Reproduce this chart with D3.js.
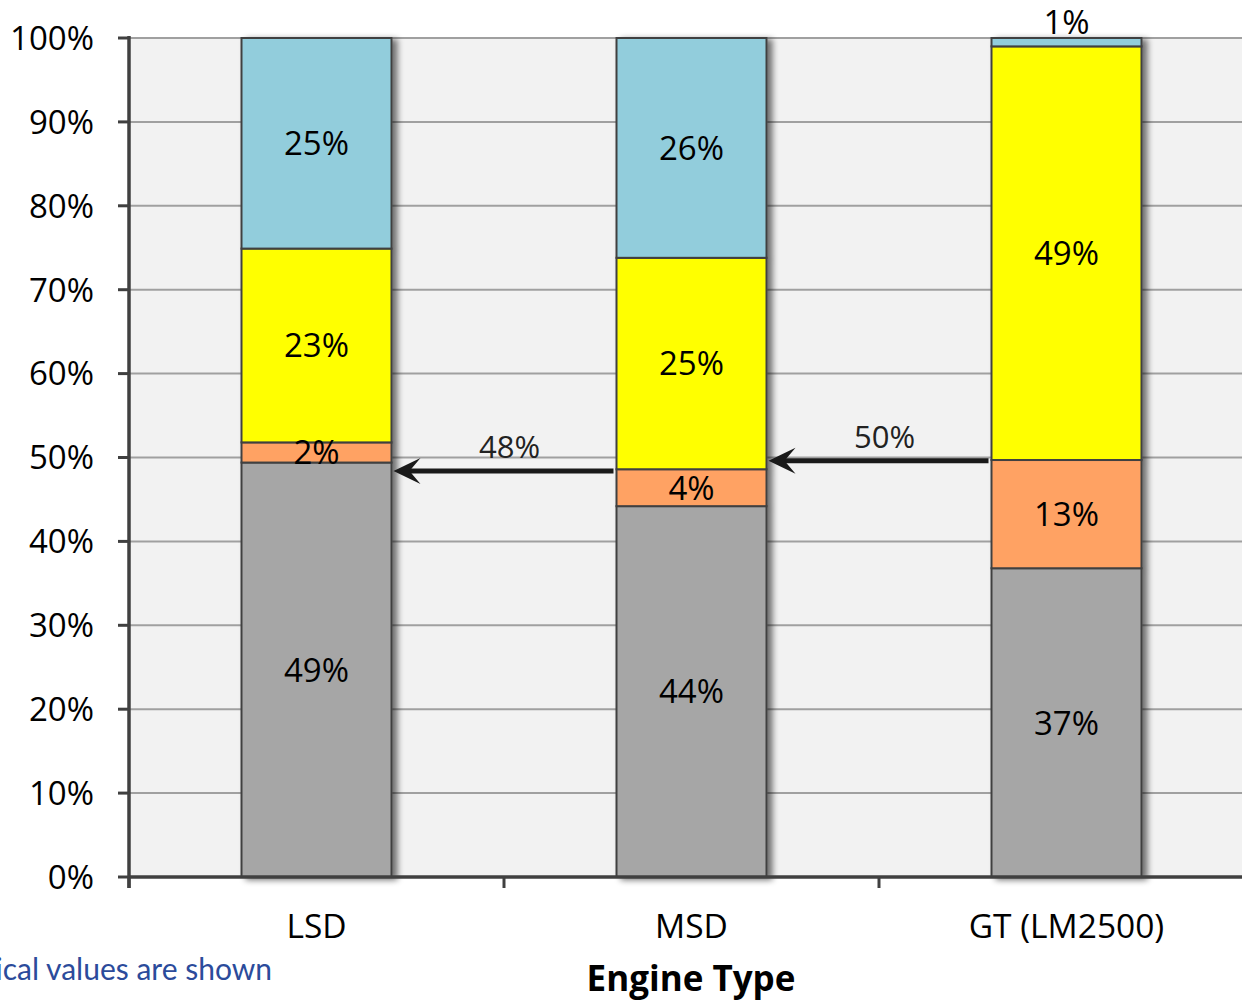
<!DOCTYPE html>
<html>
<head>
<meta charset="utf-8">
<script src="https://cdn.jsdelivr.net/npm/d3@7"></script>
<style>
  html, body { margin: 0; padding: 0; background: #ffffff; overflow: hidden; }
  svg { display: block; font-family: "Open Sans", "Noto Sans", sans-serif; }
</style>
</head>
<body>
<svg id="chart" width="1242" height="1003"></svg>
<script>
// Engine types along the x axis
const categories = ["LSD", "MSD", "GT (LM2500)"];
// Share of each component per engine (percent), stacked bottom to top
const seriesNames = ["Gray", "Orange", "Yellow", "Blue"];
const grayValues   = [49.4, 44.2, 36.8];
const orangeValues = [2.4, 4.4, 12.9];
const yellowValues = [23.1, 25.2, 49.3];
const blueValues   = [25.1, 26.2, 1.0];
const seriesColors = ["#a6a6a6", "#ffa264", "#ffff00", "#92cddc"];
// Comparison arrows: from one bar back to the previous one, at the stated level
const arrowFrom   = ["MSD", "GT (LM2500)"];
const arrowTo     = ["LSD", "MSD"];
const arrowValues = [48.4, 49.6];
// Axis tick values
const yTicks = [0, 10, 20, 30, 40, 50, 60, 70, 80, 90, 100];
const xTitle = "Engine Type";
const footnote = "Typical values are shown";

const svg = d3.select("#chart");
const plotLeft = 129, plotRight = 1254, plotTop = 38, plotBottom = 877;

const x = d3.scaleBand().domain(categories).range([plotLeft, plotRight])
  .paddingInner(0.6).paddingOuter(0.3);
const y = d3.scaleLinear().domain([0, 100]).range([plotBottom, plotTop]);

const rows = categories.map((c, i) => ({
  cat: c,
  Gray: grayValues[i], Orange: orangeValues[i], Yellow: yellowValues[i], Blue: blueValues[i]
}));
const stacked = d3.stack().keys(seriesNames)(rows);
const color = d3.scaleOrdinal().domain(seriesNames).range(seriesColors);

// Shadow for the bars
const defs = svg.append("defs");
const f = defs.append("filter").attr("id", "shadow")
  .attr("x", "-10%").attr("y", "-5%").attr("width", "130%").attr("height", "115%");
f.append("feGaussianBlur").attr("in", "SourceAlpha").attr("stdDeviation", 3).attr("result", "b");
f.append("feOffset").attr("in", "b").attr("dx", 5).attr("dy", 2).attr("result", "o");
f.append("feComponentTransfer").attr("in", "o").attr("result", "s")
  .append("feFuncA").attr("type", "linear").attr("slope", 0.55);
const m = f.append("feMerge");
m.append("feMergeNode").attr("in", "s");
m.append("feMergeNode").attr("in", "SourceGraphic");

// Plot background
svg.append("rect").attr("x", plotLeft).attr("y", plotTop)
  .attr("width", plotRight - plotLeft).attr("height", plotBottom - plotTop).attr("fill", "#f2f2f2");

// Horizontal gridlines
svg.append("g").selectAll("line").data(yTicks.filter(d => d > 0)).join("line")
  .attr("x1", plotLeft).attr("x2", plotRight)
  .attr("y1", d => y(d)).attr("y2", d => y(d))
  .attr("stroke", "#a0a0a0").attr("stroke-width", 2);

// Bars with shadow
const barGroup = svg.append("g").attr("filter", "url(#shadow)");
categories.forEach((c, i) => {
  const g = barGroup.append("g");
  stacked.forEach(s => {
    const d = s[i];
    g.append("rect")
      .attr("x", x(c)).attr("width", x.bandwidth())
      .attr("y", y(d[1])).attr("height", y(d[0]) - y(d[1]))
      .attr("fill", color(s.key))
      .attr("stroke", "#404040").attr("stroke-width", 2);
  });
});

// Segment value labels
const fmt = v => Math.round(v) + "%";
stacked.forEach(s => {
  s.forEach((d, i) => {
    const v = d[1] - d[0];
    const cx = x(categories[i]) + x.bandwidth() / 2;
    const cy = v < 1.5 ? y(d[1]) - 16 : (y(d[0]) + y(d[1])) / 2;
    svg.append("text")
      .attr("x", cx).attr("y", cy).attr("dy", "0.36em")
      .attr("text-anchor", "middle").attr("font-size", 33).attr("fill", "#000")
      .text(fmt(v));
  });
});

// Comparison arrows, head drawn as a barbed path at the left end
arrowValues.forEach((v, i) => {
  const x1 = x(arrowFrom[i]) - 3;
  const x2 = x(arrowTo[i]) + x.bandwidth() + 2;
  const yy = y(v);
  svg.append("line")
    .attr("x1", x1).attr("x2", x2 + 14).attr("y1", yy).attr("y2", yy)
    .attr("stroke", "#1a1a1a").attr("stroke-width", 5);
  svg.append("path")
    .attr("d", `M${x2},${yy} L${x2 + 27},${yy - 13} L${x2 + 16},${yy} L${x2 + 27},${yy + 13} Z`)
    .attr("fill", "#1a1a1a");
  svg.append("text")
    .attr("x", (x1 + x2) / 2 + 6).attr("y", yy - 24).attr("dy", "0.36em")
    .attr("text-anchor", "middle").attr("font-size", 31).attr("fill", "#222")
    .text(fmt(v));
});

// Y axis
const yAxis = svg.append("g");
yAxis.append("line").attr("x1", plotLeft).attr("x2", plotLeft).attr("y1", plotTop - 2).attr("y2", plotBottom + 11)
  .attr("stroke", "#404040").attr("stroke-width", 3.5);
yAxis.selectAll("line.tick").data(yTicks).join("line").attr("class", "tick")
  .attr("x1", plotLeft - 11).attr("x2", plotLeft).attr("y1", d => y(d)).attr("y2", d => y(d))
  .attr("stroke", "#404040").attr("stroke-width", 3);
yAxis.selectAll("text").data(yTicks).join("text")
  .attr("x", 94).attr("y", d => y(d)).attr("dy", "0.36em")
  .attr("text-anchor", "end").attr("font-size", 33).attr("fill", "#000")
  .text(d => d + "%");

// X axis
const step = x.step();
const xBounds = categories.map(c => x(c) - step * x.paddingInner() / 2);
const xAxis = svg.append("g");
xAxis.append("line").attr("x1", plotLeft).attr("x2", plotRight).attr("y1", plotBottom).attr("y2", plotBottom)
  .attr("stroke", "#404040").attr("stroke-width", 3.5);
xAxis.selectAll("line.tick").data(xBounds).join("line").attr("class", "tick")
  .attr("x1", d => d).attr("x2", d => d).attr("y1", plotBottom).attr("y2", plotBottom + 11)
  .attr("stroke", "#404040").attr("stroke-width", 3);
xAxis.selectAll("text").data(categories).join("text")
  .attr("x", d => x(d) + x.bandwidth() / 2).attr("y", 926).attr("dy", "0.36em")
  .attr("text-anchor", "middle").attr("font-size", 33.5).attr("fill", "#000")
  .text(d => d);

// Axis title
svg.append("text").attr("x", 691).attr("y", 978).attr("dy", "0.36em")
  .attr("text-anchor", "middle").attr("font-size", 35).attr("font-weight", "bold")
  .attr("fill", "#000").text(xTitle);

// Note
svg.append("text").attr("x", 272).attr("y", 969).attr("dy", "0.36em")
  .attr("text-anchor", "end").attr("font-size", 30).attr("font-family", "Lato, sans-serif")
  .attr("fill", "#2b4b9b").text(footnote);
</script>
</body>
</html>
